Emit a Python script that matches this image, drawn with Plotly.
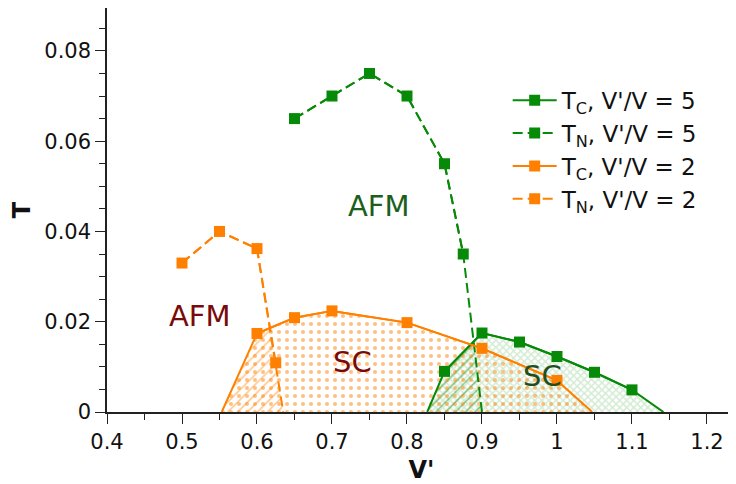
import plotly.graph_objects as go

# ---------------- data ----------------
# V'/V = 5
tc5_v = [0.85, 0.90, 0.95, 1.00, 1.05, 1.10]
tc5_t = [0.009, 0.0175, 0.0155, 0.0123, 0.0088, 0.0049]
tc5_v0 = [0.827, 1.142]          # T = 0 end points of the Tc line (left, right)

tn5_v = [0.65, 0.70, 0.75, 0.80, 0.85, 0.875]
tn5_t = [0.065, 0.070, 0.075, 0.070, 0.055, 0.035]
tn5_v0 = 0.900                   # T = 0 end point of the Tn line

# V'/V = 2
tc2_v = [0.60, 0.65, 0.70, 0.80, 0.90, 1.00]
tc2_t = [0.0174, 0.0209, 0.0224, 0.0198, 0.0141, 0.0070]
tc2_v0 = [0.553, 1.047]

tn2_v = [0.50, 0.55, 0.60, 0.625]
tn2_t = [0.033, 0.040, 0.0362, 0.0109]
tn2_v0 = 0.635

x_ticks = [0.4, 0.5, 0.6, 0.7, 0.8, 0.9, 1.0, 1.1, 1.2]
x_tick_text = ["0.4", "0.5", "0.6", "0.7", "0.8", "0.9", "1", "1.1", "1.2"]
y_ticks = [0, 0.02, 0.04, 0.06, 0.08]
y_tick_text = ["0", "0.02", "0.04", "0.06", "0.08"]

GREEN = "#078a07"
ORANGE = "#ff8000"
FONT = "DejaVu Sans"
DASH = "10px,5px"
SP = "\u00a0"


def seg_int(p1, p2, p3, p4):
    x1, y1 = p1; x2, y2 = p2; x3, y3 = p3; x4, y4 = p4
    d = (x1 - x2) * (y3 - y4) - (y1 - y2) * (x3 - x4)
    if abs(d) < 1e-15:
        return None
    t = ((x1 - x3) * (y3 - y4) - (y1 - y3) * (x3 - x4)) / d
    u = -((x1 - x2) * (y1 - y3) - (y1 - y2) * (x1 - x3)) / d
    if 0 <= t <= 1 and 0 <= u <= 1:
        return (x1 + t * (x2 - x1), y1 + t * (y2 - y1))
    return None


def regions(tc_v, tc_t, tc_v0, tn_v, tn_t, tn_v0):
    cx = [tc_v0[0]] + tc_v + [tc_v0[1]]
    cy = [0] + tc_t + [0]
    nx = tn_v + [tn_v0]
    ny = tn_t + [0]
    for j in range(len(nx) - 1):
        for i in range(len(cx) - 1):
            p = seg_int((nx[j], ny[j]), (nx[j + 1], ny[j + 1]),
                        (cx[i], cy[i]), (cx[i + 1], cy[i + 1]))
            if p is not None:
                px = cx[:i + 1] + [p[0]] + nx[j + 1:]
                py = cy[:i + 1] + [p[1]] + ny[j + 1:]
                return (cx, cy), (px, py), (nx, ny)
    return (cx, cy), None, (nx, ny)


fig = go.Figure()

(g_cx, g_cy), g_co, (g_nx, g_ny) = regions(tc5_v, tc5_t, tc5_v0, tn5_v, tn5_t, tn5_v0)
(o_cx, o_cy), o_co, (o_nx, o_ny) = regions(tc2_v, tc2_t, tc2_v0, tn2_v, tn2_t, tn2_v0)

CLEAR = "rgba(0,0,0,0)"

# fills
fig.add_trace(go.Scatter(x=g_cx, y=g_cy, fill="toself", mode="none", fillcolor=CLEAR,
                         fillpattern=dict(shape="x", fgcolor="rgba(7,138,7,0.35)", bgcolor=CLEAR,
                                          size=5, solidity=0.5),
                         showlegend=False, hoverinfo="skip"))
fig.add_trace(go.Scatter(x=g_co[0], y=g_co[1], fill="toself", mode="none", fillcolor=CLEAR,
                         fillpattern=dict(shape="/", fgcolor=GREEN, bgcolor=CLEAR,
                                          size=7, solidity=0.2),
                         showlegend=False, hoverinfo="skip"))
fig.add_trace(go.Scatter(x=o_cx, y=o_cy, fill="toself", mode="none", fillcolor=CLEAR,
                         fillpattern=dict(shape=".", fgcolor=ORANGE, bgcolor=CLEAR,
                                          size=8, solidity=0.2),
                         showlegend=False, hoverinfo="skip"))
fig.add_trace(go.Scatter(x=o_co[0], y=o_co[1], fill="toself", mode="none", fillcolor=CLEAR,
                         fillpattern=dict(shape="/", fgcolor=ORANGE, bgcolor=CLEAR,
                                          size=7, solidity=0.2),
                         showlegend=False, hoverinfo="skip"))

# lines (full, no markers at T=0 ends)
for (x, y, c, d) in [(g_cx, g_cy, GREEN, "solid"), (g_nx, g_ny, GREEN, DASH),
                     (o_cx, o_cy, ORANGE, "solid"), (o_nx, o_ny, ORANGE, DASH)]:
    fig.add_trace(go.Scatter(x=x, y=y, mode="lines", line=dict(color=c, width=2, dash=d),
                             showlegend=False, hoverinfo="skip"))

# markers + legend entries
mk = dict(symbol="square", size=11)
series = [
    (tc5_v, tc5_t, GREEN, "solid", "T<sub>C</sub>, V'/V" + SP + "=" + SP + "5"),
    (tn5_v, tn5_t, GREEN, DASH, "T<sub>N</sub>, V'/V" + SP + "=" + SP + "5"),
    (tc2_v, tc2_t, ORANGE, "solid", "T<sub>C</sub>, V'/V" + SP + "=" + SP + "2"),
    (tn2_v, tn2_t, ORANGE, DASH, "T<sub>N</sub>, V'/V" + SP + "=" + SP + "2"),
]
for x, y, c, d, name in series:
    fig.add_trace(go.Scatter(x=x, y=y, mode="lines+markers", name=name,
                             line=dict(color=c, width=2, dash=d),
                             marker=dict(color=c, **mk)))

# region labels
labels = [
    ("AFM", 0.763, 0.0457, "#1d5e1d"),
    ("AFM", 0.524, 0.0213, "#7a0a0a"),
    ("SC", 0.728, 0.0110, "#7a0a0a"),
    ("SC", 0.981, 0.0079, "#1f4f1f"),
]
for t, x, y, c in labels:
    fig.add_annotation(x=x, y=y, text=t, showarrow=False,
                       font=dict(family=FONT, size=29, color=c))

axis_common = dict(showline=True, linecolor="#222", linewidth=1.5, ticks="outside",
                   ticklen=10, tickwidth=1.2, tickcolor="#222", showgrid=False, zeroline=False,
                   automargin=False,
                   tickfont=dict(family=FONT, size=21, color="#111"))

fig.update_xaxes(range=[0.4, 1.2387], tickvals=x_ticks, ticktext=x_tick_text,
                 minor=dict(ticks="outside", ticklen=6, dtick=0.05, tick0=0.4, tickcolor="#222"),
                 title=dict(text="<b>V'</b>", font=dict(family=FONT, size=24, color="#111"),
                            standoff=12),
                 **axis_common)
fig.update_yaxes(range=[0, 0.0895], tickvals=y_ticks, ticktext=y_tick_text,
                 minor=dict(ticks="outside", ticklen=6, dtick=0.005, tick0=0, tickcolor="#222"),
                 title=dict(text="<b>T</b>", font=dict(family=FONT, size=24, color="#111"),
                            standoff=10),
                 **axis_common)

# the page adds an 8px body margin, so the figure is a bit smaller than the window
fig.update_layout(
    width=728, height=476,
    margin=dict(l=99, r=0, t=0, b=72),
    plot_bgcolor="white", paper_bgcolor="white",
    font=dict(family=FONT, size=21, color="#111"),
    legend=dict(x=0.637, y=0.825, xanchor="left", yanchor="top", itemwidth=44,
                bgcolor="rgba(255,255,255,0)", font=dict(family=FONT, size=23, color="#111"),
                tracegroupgap=0),
)

fig.write_html("out.html")
